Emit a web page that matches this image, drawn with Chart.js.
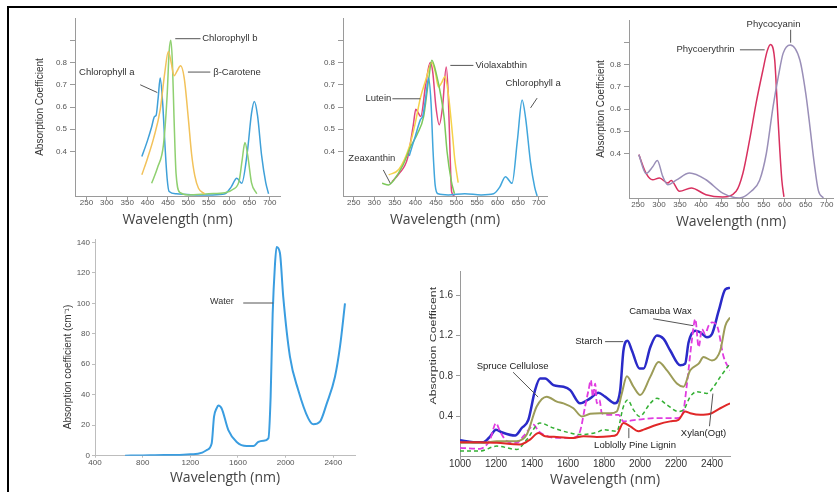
<!DOCTYPE html>
<html>
<head>
<meta charset="utf-8">
<script src="https://cdn.jsdelivr.net/npm/chart.js@4.4.1/dist/chart.umd.min.js"></script>
<style>
  html, body { margin: 0; padding: 0; background: #fff; }
  body { width: 837px; height: 492px; position: relative; overflow: hidden; }
  .frame { position: absolute; left: 7px; top: 6px; width: 850px; height: 500px;
           border-left: 2px solid #000; border-top: 2px solid #000; }
  canvas { position: absolute; }
</style>
</head>
<body>
<div class="frame"></div>
<canvas id="pigments1"></canvas>
<canvas id="pigments2"></canvas>
<canvas id="phyco"></canvas>
<canvas id="water"></canvas>
<canvas id="cellwall"></canvas>
<script>
// ---------- Top row: pigment absorption spectra ----------
const pigmentXTicks = [250, 300, 350, 400, 450, 500, 550, 600, 650, 700];
const pigmentYTicks = [0.4, 0.5, 0.6, 0.7, 0.8, 0.9];
const pigmentYLabels = ['0.4', '0.5', '0.6', '0.7', '0.8', ''];

// Chlorophyll a / b and beta-carotene
const chlA1Wl  = [386, 400, 410, 417, 421, 426, 431, 437, 443, 448, 453, 470, 520, 560, 590, 605, 619, 631, 645, 655, 662, 670, 680, 690, 697];
const chlA1Abs = [0.377, 0.45, 0.51, 0.557, 0.562, 0.64, 0.73, 0.62, 0.42, 0.28, 0.22, 0.21, 0.205, 0.205, 0.21, 0.24, 0.28, 0.257, 0.40, 0.57, 0.625, 0.56, 0.38, 0.26, 0.21];
const chlBWl   = [410, 425, 439, 448, 453, 457, 461, 465, 470, 480, 500, 550, 590, 610, 625, 632, 639, 646, 655, 668];
const chlBAbs  = [0.257, 0.33, 0.43, 0.65, 0.85, 0.90, 0.80, 0.55, 0.30, 0.215, 0.205, 0.21, 0.215, 0.23, 0.27, 0.36, 0.44, 0.38, 0.26, 0.21];
const caroWl   = [386, 400, 415, 431, 442, 451, 458, 465, 472, 481, 490, 500, 508, 516, 525, 540];
const caroAbs  = [0.295, 0.37, 0.46, 0.587, 0.75, 0.85, 0.80, 0.74, 0.76, 0.785, 0.73, 0.55, 0.39, 0.29, 0.235, 0.21];

// Xanthophylls with chlorophyll a
const chlA2Wl  = [385, 400, 412, 418, 425, 432, 438, 443, 448, 455, 480, 520, 560, 590, 605, 619, 635, 648, 659.5, 668, 680, 690, 696];
const chlA2Abs = [0.38, 0.47, 0.542, 0.56, 0.64, 0.73, 0.62, 0.40, 0.25, 0.21, 0.205, 0.21, 0.205, 0.21, 0.24, 0.287, 0.257, 0.45, 0.632, 0.55, 0.35, 0.24, 0.2];
const violaWl  = [343, 360, 381, 395, 401, 408, 413, 425, 436, 442, 450, 458, 466, 475, 480, 485, 488, 495];
const violaAbs = [0.264, 0.30, 0.37, 0.52, 0.59, 0.57, 0.557, 0.70, 0.80, 0.76, 0.60, 0.52, 0.60, 0.78, 0.65, 0.35, 0.22, 0.2];
const luteinWl  = [335, 360, 385, 400, 412, 425, 440, 448, 456, 464, 472, 480, 490, 496, 504];
const luteinAbs = [0.295, 0.32, 0.42, 0.53, 0.64, 0.72, 0.80, 0.76, 0.69, 0.71, 0.737, 0.66, 0.48, 0.36, 0.26];
const zeaWl    = [319, 335, 347, 370, 388, 405, 420, 432, 440, 452, 462, 470, 477, 487, 495];
const zeaAbs   = [0.257, 0.25, 0.27, 0.34, 0.42, 0.48, 0.557, 0.72, 0.81, 0.74, 0.65, 0.55, 0.40, 0.27, 0.21];

// Phycobilins
const pErythWl  = [252, 269, 285, 301, 321, 329, 349, 377, 412, 452, 484, 500, 516, 532, 548, 558, 566, 576, 582, 588, 593, 598];
const pErythAbs = [0.395, 0.312, 0.282, 0.29, 0.267, 0.279, 0.23, 0.245, 0.215, 0.205, 0.23, 0.31, 0.46, 0.63, 0.776, 0.86, 0.89, 0.82, 0.62, 0.42, 0.28, 0.205];
const pCyanWl   = [252, 269, 285, 296, 309, 321, 341, 373, 412, 452, 492, 520, 540, 556, 572, 585, 596, 613, 636, 650, 660, 670, 680, 692];
const pCyanAbs  = [0.395, 0.31, 0.34, 0.369, 0.297, 0.26, 0.28, 0.312, 0.282, 0.222, 0.2, 0.23, 0.28, 0.40, 0.61, 0.75, 0.85, 0.888, 0.82, 0.67, 0.52, 0.36, 0.234, 0.2];

// ---------- Bottom left: liquid water ----------
const waterXTicks = [400, 800, 1200, 1600, 2000, 2400];
const waterYTicks = [0, 20, 40, 60, 80, 100, 120, 140];
const waterWl  = [652, 800, 980, 1085, 1200, 1225, 1300, 1337, 1379, 1399, 1420, 1435, 1463, 1519, 1589, 1673, 1729, 1771, 1813, 1855, 1874, 1891, 1910, 1924, 1952, 1980, 2036, 2106, 2190, 2232, 2288, 2344, 2414, 2456, 2498];
const waterAbs = [0, 0.2, 0.5, 0.4, 1, 1, 2, 3.7, 8, 25.6, 31, 33, 31, 16.8, 9, 6.3, 6.3, 9, 9.8, 11.4, 38.7, 93, 125, 137, 133, 104, 65, 43, 24.5, 20.6, 22.3, 34, 51.8, 71.5, 100];

// ---------- Bottom right: plant cell wall compounds ----------
const cellXTicks = [1000, 1200, 1400, 1600, 1800, 2000, 2200, 2400];
const cellYTicks = [0.4, 0.8, 1.2, 1.6];
const cellYLabels = ['0.4', '0.8', '1.2', '1.6'];
const starchWl  = [1000, 1074, 1130, 1167, 1200, 1232, 1306, 1343, 1380, 1417, 1445, 1473, 1519, 1575, 1612, 1667, 1723, 1769, 1806, 1862, 1890, 1908, 1931, 1955, 1997, 2020, 2057, 2094, 2131, 2168, 2224, 2251, 2270, 2307, 2335, 2372, 2400, 2437, 2474, 2500];
const starchAbs = [0.163, 0.144, 0.144, 0.2, 0.268, 0.242, 0.209, 0.284, 0.366, 0.66, 0.774, 0.774, 0.709, 0.693, 0.66, 0.529, 0.578, 0.634, 0.595, 0.529, 0.66, 1.052, 1.15, 1.052, 0.873, 0.873, 1.085, 1.2, 1.167, 1.052, 0.905, 0.922, 1.134, 1.248, 1.232, 1.183, 1.216, 1.444, 1.657, 1.673];
const spruceWl  = [1000, 1130, 1204, 1315, 1371, 1426, 1482, 1538, 1575, 1630, 1677, 1723, 1779, 1834, 1871, 1899, 1927, 1964, 2001, 2057, 2103, 2150, 2205, 2242, 2279, 2326, 2353, 2400, 2446, 2474, 2500];
const spruceAbs = [0.137, 0.137, 0.154, 0.154, 0.219, 0.497, 0.595, 0.546, 0.529, 0.48, 0.399, 0.425, 0.431, 0.431, 0.448, 0.627, 0.797, 0.693, 0.611, 0.791, 0.938, 0.856, 0.725, 0.693, 0.856, 0.922, 0.987, 0.954, 1.052, 1.297, 1.379];
const xylanWl   = [1000, 1111, 1204, 1315, 1371, 1445, 1519, 1612, 1667, 1760, 1797, 1871, 1908, 1931, 1964, 1997, 2057, 2094, 2150, 2214, 2242, 2279, 2316, 2372, 2409, 2446, 2500];
const xylanAbs  = [0.056, 0.056, 0.105, 0.072, 0.17, 0.333, 0.284, 0.235, 0.219, 0.242, 0.268, 0.252, 0.497, 0.562, 0.464, 0.399, 0.529, 0.578, 0.513, 0.448, 0.464, 0.595, 0.644, 0.627, 0.693, 0.791, 0.922];
const ligninWl  = [1000, 1111, 1204, 1334, 1389, 1436, 1473, 1538, 1630, 1686, 1760, 1834, 1871, 1908, 1946, 1992, 2020, 2094, 2168, 2214, 2251, 2279, 2335, 2390, 2446, 2500];
const ligninAbs = [0.144, 0.144, 0.137, 0.121, 0.17, 0.235, 0.203, 0.196, 0.186, 0.203, 0.196, 0.203, 0.219, 0.333, 0.3, 0.252, 0.268, 0.317, 0.35, 0.366, 0.448, 0.431, 0.415, 0.425, 0.48, 0.529];
const waxWl     = [1000, 1111, 1167, 1200, 1222, 1260, 1315, 1352, 1389, 1408, 1436, 1463, 1538, 1630, 1667, 1695, 1714, 1727, 1738, 1751, 1760, 1775, 1788, 1834, 1881, 1908, 1983, 2094, 2205, 2238, 2261, 2288, 2307, 2326, 2344, 2362, 2381, 2400, 2428, 2465, 2500];
const waxAbs    = [0.088, 0.078, 0.17, 0.333, 0.252, 0.154, 0.137, 0.203, 0.284, 0.317, 0.252, 0.219, 0.186, 0.186, 0.252, 0.497, 0.66, 0.758, 0.595, 0.725, 0.529, 0.562, 0.431, 0.415, 0.415, 0.35, 0.366, 0.382, 0.382, 0.431, 0.725, 1.15, 1.363, 1.085, 1.265, 1.216, 1.297, 1.33, 1.297, 0.987, 0.856];

// ---------- drawing helpers ----------
const SANS = "'Liberation Sans', Arial, sans-serif";
const TITLE_FONT = { family: "'Open Sans', 'DejaVu Sans', sans-serif", size: 14 };

function series(label, xs, ys, color, width, dash) {
  return {
    label, data: xs.map((x, i) => ({ x, y: ys[i] })),
    borderColor: color, borderWidth: width, borderDash: dash || [],
    pointRadius: 0, fill: false, cubicInterpolationMode: 'monotone'
  };
}

// Text labels and leader lines placed in data coordinates
function calloutPlugin(items) {
  return {
    id: 'callouts',
    afterDatasetsDraw(chart) {
      const { ctx, scales: { x, y } } = chart;
      ctx.save();
      for (const it of items) {
        if (it.line) {
          ctx.strokeStyle = it.lineColor || '#555';
          ctx.lineWidth = 1;
          ctx.beginPath();
          ctx.moveTo(x.getPixelForValue(it.line[0]), y.getPixelForValue(it.line[1]));
          ctx.lineTo(x.getPixelForValue(it.line[2]), y.getPixelForValue(it.line[3]));
          ctx.stroke();
        }
        if (it.text) {
          const px = x.getPixelForValue(it.at[0]);
          const py = y.getPixelForValue(it.at[1]);
          const f = it.font || { family: SANS, size: 9.5 };
          ctx.font = `${f.size}px ${f.family}`;
          ctx.fillStyle = it.color || '#333';
          ctx.textAlign = it.align || 'left';
          ctx.textBaseline = 'middle';
          ctx.save();
          ctx.translate(px, py);
          if (it.rotate) ctx.rotate(-Math.PI / 2);
          if (it.stretch) ctx.scale(it.stretch, 1);
          ctx.fillText(it.text, 0, 0);
          ctx.restore();
        }
      }
      ctx.restore();
    }
  };
}

function panel(id, box, area, spec) {
  const cv = document.getElementById(id);
  cv.width = box.w; cv.height = box.h;
  cv.style.left = box.x + 'px'; cv.style.top = box.y + 'px';
  const yW = area.left - box.x;
  const xH = box.y + box.h - area.bottom;
  const tickFont = { family: SANS, size: spec.tickSize };
  return new Chart(cv, {
    type: 'line',
    data: { datasets: spec.datasets },
    options: {
      responsive: false, animation: false, events: [],
      layout: { padding: { top: area.top - box.y, right: box.x + box.w - area.right, left: 0, bottom: 0 } },
      plugins: { legend: { display: false }, tooltip: { enabled: false } },
      scales: {
        x: {
          type: 'linear', min: spec.xMin, max: spec.xMax,
          afterBuildTicks: s => { s.ticks = spec.xTicks.map(v => ({ value: v })); },
          afterFit: s => { s.height = xH; },
          border: { display: true, color: spec.axisColor, width: 1 },
          grid: { display: true, drawOnChartArea: false, drawTicks: true, tickLength: spec.xTickLen, color: spec.axisColor },
          ticks: { autoSkip: false, maxRotation: 0, padding: spec.xTickPad, font: tickFont, color: spec.tickColor,
                   callback: v => String(v) },
          title: spec.xTitle
            ? { display: true, text: spec.xTitle, font: TITLE_FONT, color: '#444', padding: { top: 0, bottom: spec.xTitlePad } }
            : { display: false }
        },
        y: {
          type: 'linear', min: spec.yMin, max: spec.yMax,
          afterBuildTicks: s => { s.ticks = spec.yTicks.map(v => ({ value: v })); },
          afterFit: s => { s.width = yW; },
          border: { display: true, color: spec.axisColor, width: 1 },
          grid: { display: true, drawOnChartArea: false, drawTicks: true, tickLength: spec.yTickLen, color: spec.axisColor },
          ticks: { autoSkip: false, padding: spec.yTickPad, font: tickFont, color: spec.tickColor,
                   callback: (v, i) => spec.yLabels ? spec.yLabels[i] : String(v) },
          title: spec.yTitle
            ? { display: true, text: spec.yTitle, font: { family: SANS, size: 10 }, color: '#333', padding: { top: spec.yTitlePad, bottom: 0 } }
            : { display: false }
        }
      }
    },
    plugins: [calloutPlugin(spec.callouts || [])]
  });
}

const pigmentAxes = {
  xTicks: pigmentXTicks, yTicks: pigmentYTicks, yLabels: pigmentYLabels,
  yMin: 0.2, yMax: 1.0, tickSize: 8, tickColor: '#555', axisColor: '#9a9a9a',
  xTickLen: 4, xTickPad: -2, yTickLen: 5, yTickPad: 3,
  xTitle: 'Wavelength (nm)', xTitlePad: 3.6
};

// Chlorophylls and carotene
panel('pigments1', { x: 20, y: 8, w: 272, h: 224 }, { left: 75, top: 18, right: 280, bottom: 196 }, {
  ...pigmentAxes, xMin: 222, xMax: 725,
  yTitle: 'Absorption Coefficient', yTitlePad: 14,
  datasets: [
    series('β-Carotene', caroWl, caroAbs, '#f2c25a', 1.5),
    series('Chlorophyll b', chlBWl, chlBAbs, '#8fd070', 1.5),
    series('Chlorophyll a', chlA1Wl, chlA1Abs, '#3fa0d8', 1.5)
  ],
  callouts: [
    { text: 'Chlorophyll b', at: [534, 0.907], line: [468, 0.907, 530, 0.907] },
    { text: 'β-Carotene', at: [561, 0.755], line: [499, 0.757, 554, 0.757] },
    { text: 'Chlorophyll a', at: [232, 0.754], line: [382, 0.70, 424, 0.665] }
  ]
});

// Xanthophylls
panel('pigments2', { x: 305, y: 8, w: 262, h: 224 }, { left: 343, top: 18, right: 547, bottom: 196 }, {
  ...pigmentAxes, xMin: 224, xMax: 720,
  datasets: [
    series('Chlorophyll a', chlA2Wl, chlA2Abs, '#41a6dc', 1.5),
    series('Zeaxanthin', zeaWl, zeaAbs, '#7cc85a', 1.5),
    series('Lutein', luteinWl, luteinAbs, '#f5d24a', 1.5),
    series('Violaxabthin', violaWl, violaAbs, '#e0457e', 1.5)
  ],
  callouts: [
    { text: 'Violaxabthin', at: [546, 0.787], line: [485, 0.787, 541, 0.787] },
    { text: 'Chlorophyll a', at: [619, 0.705], line: [696, 0.64, 680, 0.596] },
    { text: 'Lutein', at: [278.5, 0.637], line: [344, 0.637, 412, 0.637] },
    { text: 'Zeaxanthin', at: [237, 0.371], line: [322, 0.317, 339, 0.257] }
  ]
});

// Phycobilins
panel('phyco', { x: 585, y: 8, w: 252, h: 226 }, { left: 629, top: 20, right: 833, bottom: 198 }, {
  ...pigmentAxes, xMin: 228.5, xMax: 715, xTitlePad: 3.9,
  yTitle: 'Absorption Coefficient', yTitlePad: 10.7,
  datasets: [
    series('Phycocyanin', pCyanWl, pCyanAbs, '#9a8fb8', 1.5),
    series('Phycoerythrin', pErythWl, pErythAbs, '#d8305f', 1.5)
  ],
  callouts: [
    { text: 'Phycocyanin', at: [509, 0.979], line: [614, 0.956, 614, 0.898] },
    { text: 'Phycoerythrin', at: [341.7, 0.866], line: [493, 0.866, 552, 0.866] }
  ]
});

// Liquid water
panel('water', { x: 55, y: 232, w: 310, h: 258 }, { left: 95, top: 239.3, right: 355, bottom: 455.7 }, {
  xTicks: waterXTicks, yTicks: waterYTicks, xMin: 400, xMax: 2582, yMin: 0, yMax: 142,
  tickSize: 8, tickColor: '#555', axisColor: '#bdbdbd',
  xTickLen: 2, xTickPad: 0, yTickLen: 3, yTickPad: 2,
  xTitle: 'Wavelength (nm)', xTitlePad: 3.6,
  datasets: [ series('Water', waterWl, waterAbs, '#3a9de0', 2) ],
  callouts: [
    { text: 'Water', at: [1365, 101], font: { family: SANS, size: 9 }, line: [1644, 100.2, 1896, 100.2] },
    { text: 'Absorption coefficient (cm⁻¹)', at: [176, 58.2], rotate: true, align: 'center', font: { family: SANS, size: 10 } }
  ]
});

// Plant cell wall compounds
panel('cellwall', { x: 425, y: 262, w: 315, h: 228 }, { left: 460, top: 270, right: 730, bottom: 456.7 }, {
  xTicks: cellXTicks, yTicks: cellYTicks, yLabels: cellYLabels,
  xMin: 1000, xMax: 2500, yMin: 0, yMax: 1.84,
  tickSize: 10, tickColor: '#333', axisColor: '#9a9a9a',
  xTickLen: 3, xTickPad: -1.5, yTickLen: 4, yTickPad: 3,
  datasets: [
    series('Loblolly Pine Lignin', ligninWl, ligninAbs, '#e02828', 2),
    series('Xylan(Ogt)', xylanWl, xylanAbs, '#34b034', 1.5, [4, 3]),
    series('Spruce Cellulose', spruceWl, spruceAbs, '#9c9c58', 2),
    series('Camauba Wax', waxWl, waxAbs, '#e03ce0', 1.8, [6, 3]),
    series('Starch', starchWl, starchAbs, '#2a2ac8', 2.5)
  ],
  callouts: [
    { text: 'Camauba Wax', at: [1940, 1.435], line: [2073, 1.367, 2296, 1.298], color: '#222' },
    { text: 'Starch', at: [1640, 1.143], line: [1806, 1.14, 1907, 1.14], color: '#222' },
    { text: 'Spruce Cellulose', at: [1093, 0.897], line: [1295, 0.837, 1434, 0.591], color: '#222' },
    { text: 'Loblolly Pine Lignin', at: [1745, 0.115], line: [1938, 0.283, 1938, 0.184], color: '#222' },
    { text: 'Xylan(Ogt)', at: [2227, 0.23], line: [2405, 0.625, 2386, 0.302], color: '#222' },
    { text: 'Absorption Coefficent', at: [855, 1.10], rotate: true, align: 'center', stretch: 1.45, font: { family: SANS, size: 8.5 } },
    { text: 'Wavelength (nm)', at: [1806, -0.23], align: 'center', color: '#444', font: TITLE_FONT }
  ]
});
</script>
</body>
</html>
